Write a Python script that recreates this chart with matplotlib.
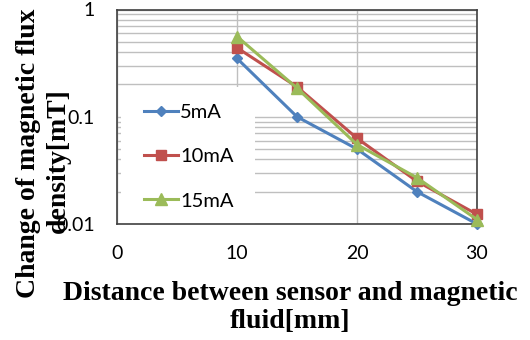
import matplotlib
matplotlib.use("Agg")
import matplotlib.pyplot as plt
from matplotlib.patches import Rectangle
from matplotlib.ticker import FixedLocator, LogLocator, NullFormatter

distance = [10, 15, 20, 25, 30]
series_labels = ["5mA", "10mA", "15mA"]
values_5mA = [0.35, 0.10, 0.050, 0.020, 0.0100]
values_10mA = [0.44, 0.19, 0.063, 0.025, 0.0123]
values_15mA = [0.56, 0.185, 0.055, 0.027, 0.0110]
x_ticks = [0, 10, 20, 30]
y_ticks = [0.01, 0.1, 1]
y_tick_labels = ["0.01", "0.1", "1"]

colors = ["#4F81BD", "#C0504D", "#9BBB59"]
markers = ["D", "s", "^"]
msizes = [5, 7, 8]

fig = plt.figure(figsize=(5.3, 3.4), dpi=100)
ax = fig.add_axes([117/530, 1 - 224/340, 360/530, 214.5/340])

ax.set_yscale("log")
ax.set_xlim(0, 30)
ax.set_ylim(0.01, 1)

ax.yaxis.set_major_locator(FixedLocator(y_ticks))
ax.yaxis.set_minor_locator(LogLocator(base=10, subs=range(2, 10)))
ax.yaxis.set_minor_formatter(NullFormatter())
ax.set_yticks(y_ticks)
ax.set_yticklabels(y_tick_labels)
ax.set_xticks(x_ticks)
ax.set_xticklabels([str(v) for v in x_ticks])

ax.set_axisbelow(True)
ax.grid(True, which="major", color="#BFBFBF", lw=1.0)
ax.grid(True, which="minor", axis="y", color="#BFBFBF", lw=1.0)

ax.tick_params(which="both", length=0)
ax.tick_params(axis="y", pad=16, labelsize=14)
ax.tick_params(axis="x", pad=15, labelsize=14)
for lbl in ax.get_xticklabels() + ax.get_yticklabels():
    lbl.set_family("Lato")

for s in ax.spines.values():
    s.set_color("#404040")
    s.set_linewidth(1.2)

# white legend background area
ax.add_patch(Rectangle((0.012, 0.0), 0.372, 0.64, transform=ax.transAxes,
                       facecolor="white", edgecolor="none", zorder=1))

for vals, lab, c, m, ms in zip([values_5mA, values_10mA, values_15mA],
                               series_labels, colors, markers, msizes):
    ax.plot(distance, vals, color=c, lw=2.2, marker=m, markersize=ms,
            label=lab, zorder=3, clip_on=False)

leg = ax.legend(loc="upper left", bbox_to_anchor=(0.075, 0.56), frameon=False,
                prop={"family": "Lato", "size": 14.5}, labelspacing=1.35,
                handlelength=1.7, handletextpad=0.1, borderpad=0, borderaxespad=0)

fs = 20
fig.text(290/530, 1 - 293/340, "Distance between sensor and magnetic",
         family="Liberation Serif", weight="bold", fontsize=fs,
         ha="center", va="center")
fig.text(290/530, 1 - 322/340, "fluid[mm]",
         family="Liberation Serif", weight="bold", fontsize=fs,
         ha="center", va="center")
fig.text(29/530, 1 - 153/340, "Change of magnetic flux",
         family="Liberation Serif", weight="bold", fontsize=fs,
         ha="center", va="center", rotation=90)
fig.text(58/530, 1 - 161/340, "density[mT]",
         family="Liberation Serif", weight="bold", fontsize=fs,
         ha="center", va="center", rotation=90)

fig.savefig("out.png", dpi=100)
